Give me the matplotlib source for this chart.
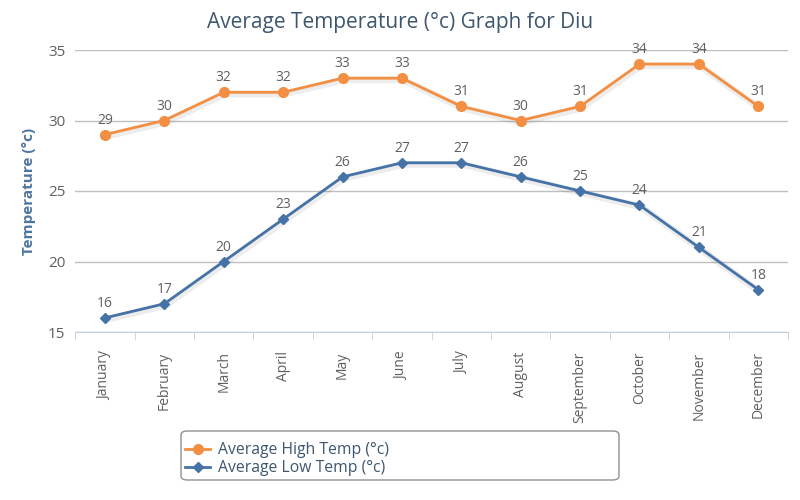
import numpy as np
import matplotlib.pyplot as plt
from matplotlib.patches import FancyBboxPatch

plt.rcParams['font.family'] = ['Open Sans', 'DejaVu Sans']

months = ['January', 'February', 'March', 'April', 'May', 'June', 'July',
          'August', 'September', 'October', 'November', 'December']
high_temp = [29, 30, 32, 32, 33, 33, 31, 30, 31, 34, 34, 31]
low_temp = [16, 17, 20, 23, 26, 27, 27, 26, 25, 24, 21, 18]

orange = '#f28f43'
blue = '#4572a7'

fig = plt.figure(figsize=(8, 5), dpi=100)
ax = fig.add_axes([0.094, 0.336, 0.891, 0.564])
x = np.arange(len(months))

# soft shadow under the lines
for vals, col in [(high_temp, orange), (low_temp, blue)]:
    ax.plot(x + 0.02, np.array(vals) - 0.12, color='black', alpha=0.07,
            linewidth=5, zorder=2, solid_capstyle='round')

ax.plot(x, high_temp, color=orange, linewidth=2, marker='o', markersize=7,
        label='Average High Temp (°c)', zorder=3)
ax.plot(x, low_temp, color=blue, linewidth=2, marker='D', markersize=5.5,
        label='Average Low Temp (°c)', zorder=3)

for xi, v in zip(x, high_temp):
    ax.annotate(str(v), (xi, v), xytext=(0, 5), textcoords='offset points',
                ha='center', va='bottom', fontsize=10, color='#606060')
for xi, v in zip(x, low_temp):
    ax.annotate(str(v), (xi, v), xytext=(0, 5), textcoords='offset points',
                ha='center', va='bottom', fontsize=10, color='#606060')

ax.set_xlim(-0.5, 11.5)
ax.set_ylim(15, 35)
ax.set_yticks([15, 20, 25, 30, 35])
ax.set_xticks(x)
ax.set_xticklabels(months, rotation=90, fontsize=10, color='#606060')
ax.set_xticks(np.arange(-0.5, 12, 1), minor=True)
ax.tick_params(axis='x', which='major', length=0, pad=14)
ax.tick_params(axis='x', which='minor', length=6, color='#c0d0e0')
ax.tick_params(axis='y', length=0, labelsize=11, colors='#606060', pad=7)
ax.grid(axis='y', color='#c0c0c0', linewidth=1)
ax.set_axisbelow(True)
for s in ['top', 'right', 'left']:
    ax.spines[s].set_visible(False)
ax.spines['bottom'].set_color('#c0d0e0')

ax.set_ylabel('Temperature (°c)', fontsize=11, fontweight='bold',
              color='#4d759e')
ax.yaxis.set_label_coords(-0.055, 0.5)
fig.text(0.5, 0.955, 'Average Temperature (°c) Graph for Diu', ha='center',
         va='center', fontsize=15, color='#3e576f')

# legend box
box = FancyBboxPatch((181 / 800, 1 - 480 / 500), 438 / 800, 49 / 500,
                     boxstyle='round,pad=0,rounding_size=0.008',
                     transform=fig.transFigure, facecolor='white',
                     edgecolor='#909090', linewidth=1)
fig.patches.append(box)
handles, labels = ax.get_legend_handles_labels()
fig.legend(handles, labels, loc='upper left', bbox_to_anchor=(185 / 800, 1 - 442 / 500),
           frameon=False, fontsize=11.3, labelcolor='#3e576f', handlelength=1.6,
           handletextpad=0.5, labelspacing=0.15, borderaxespad=0, borderpad=0)

fig.savefig('out.png', dpi=100)
